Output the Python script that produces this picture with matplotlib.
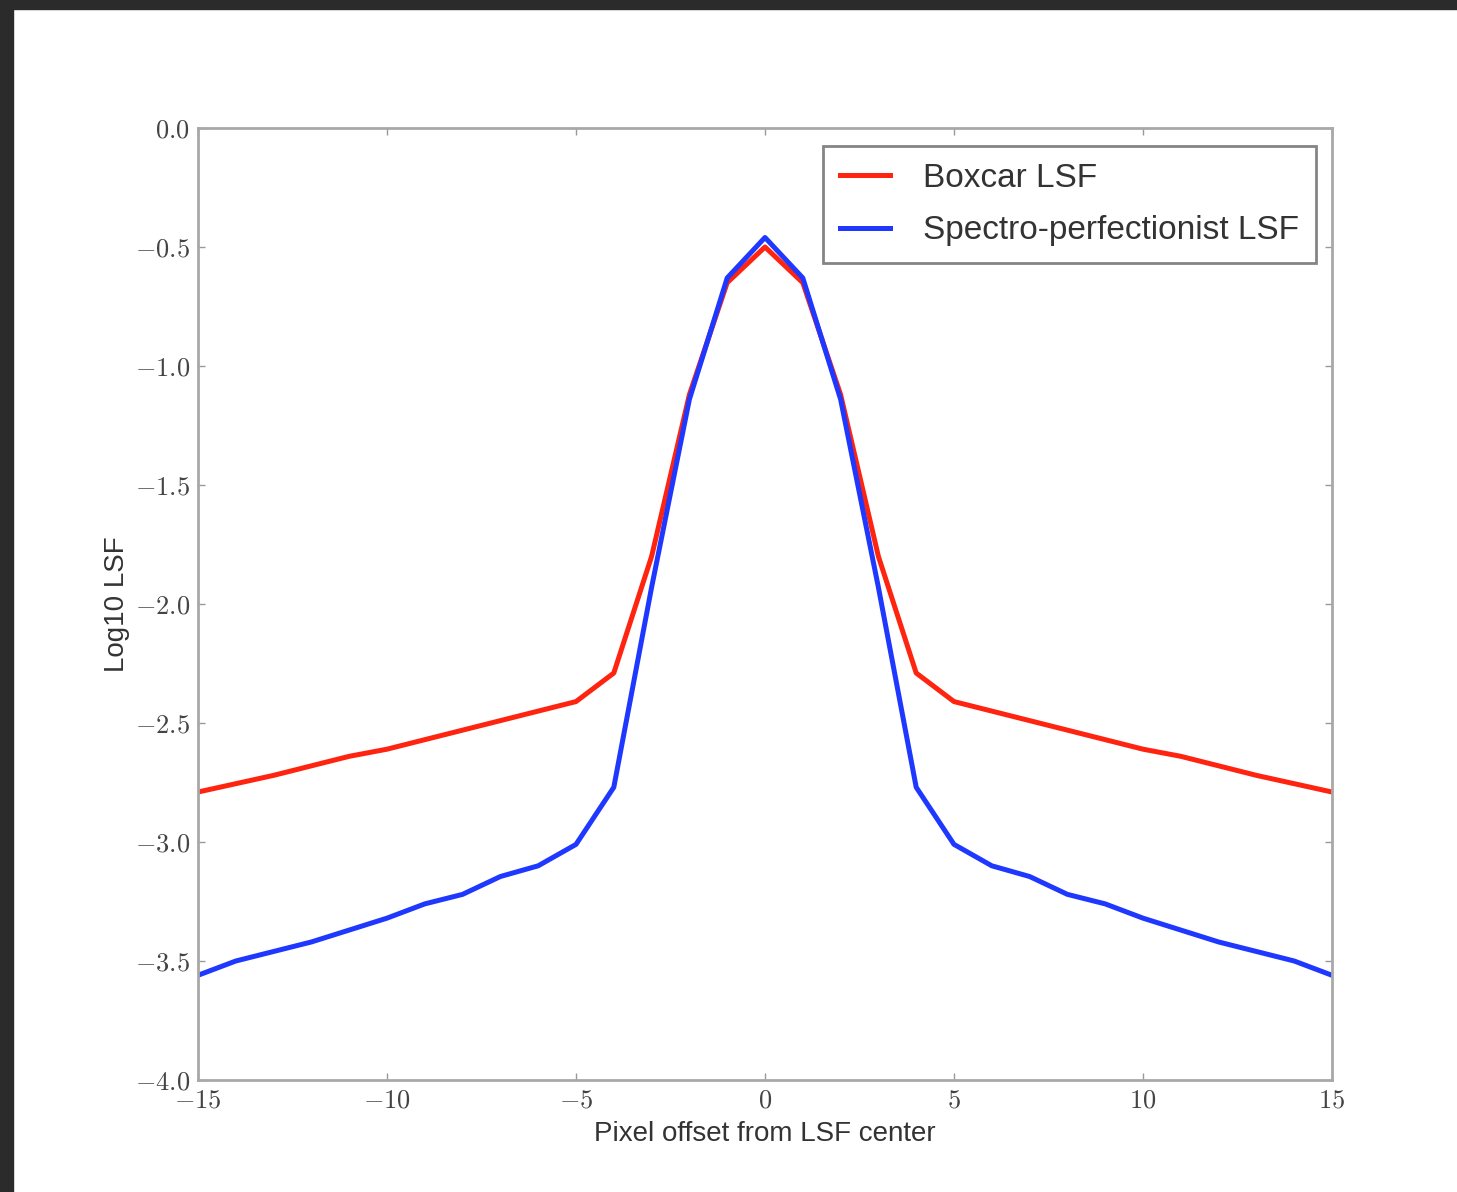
import numpy as np
import matplotlib
matplotlib.use("Agg")
import matplotlib.pyplot as plt
from matplotlib.ticker import FuncFormatter, MultipleLocator
from matplotlib.patches import Rectangle

plt.rcParams['font.family'] = ['Liberation Sans', 'DejaVu Sans']
plt.rcParams['mathtext.fontset'] = 'cm'

# pixel offsets and log10 line spread function values
offset = list(range(-15, 16))
boxcar_lsf = [-2.79, -2.755, -2.72, -2.68, -2.64, -2.61, -2.57, -2.53, -2.49, -2.45,
              -2.41, -2.29, -1.80, -1.12, -0.65, -0.50, -0.65, -1.12, -1.80, -2.29,
              -2.41, -2.45, -2.49, -2.53, -2.57, -2.61, -2.64, -2.68, -2.72, -2.755, -2.79]
spectro_lsf = [-3.56, -3.50, -3.46, -3.42, -3.37, -3.32, -3.26, -3.22, -3.145, -3.10,
               -3.01, -2.77, -1.93, -1.14, -0.63, -0.46, -0.63, -1.14, -1.93, -2.77,
               -3.01, -3.10, -3.145, -3.22, -3.26, -3.32, -3.37, -3.42, -3.46, -3.50, -3.56]

fig = plt.figure(figsize=(14.57, 11.92), dpi=100)
fig.patch.set_facecolor('white')
# dark frame along the top and left edges
fig.patches.append(Rectangle((0, 0), 13 / 1457, 1, transform=fig.transFigure,
                             color='#2b2b2b', zorder=0))
fig.patches.append(Rectangle((0, 1 - 9 / 1192), 1, 9 / 1192, transform=fig.transFigure,
                             color='#2b2b2b', zorder=0))

ax = fig.add_axes([198 / 1457, 112 / 1192, 1134 / 1457, 952 / 1192])
ax.plot(offset, boxcar_lsf, color='#ff2410', lw=3.6, label='Boxcar LSF')
ax.plot(offset, spectro_lsf, color='#1f38ff', lw=3.6, label='Spectro-perfectionist LSF')

ax.set_xlim(-15, 15)
ax.set_ylim(-4.0, 0.0)
ax.xaxis.set_major_locator(MultipleLocator(5))
ax.yaxis.set_major_locator(MultipleLocator(0.5))
ax.xaxis.set_major_formatter(FuncFormatter(lambda v, p: r'$%d$' % v))
ax.yaxis.set_major_formatter(FuncFormatter(lambda v, p: r'$%.1f$' % v))
ax.tick_params(direction='in', length=5, width=1, color='#999999',
               top=True, right=True, labelsize=19, labelcolor='#444444', pad=6)
for s in ax.spines.values():
    s.set_color('#a8a8a8')
    s.set_linewidth(2)

ax.set_xlabel('Pixel offset from LSF center', fontsize=20, color='#333333', labelpad=6)
ax.set_ylabel('Log10 LSF', fontsize=20, color='#333333', labelpad=3)

leg = ax.legend(loc='upper right', fontsize=24, fancybox=False, borderpad=0.5,
                handlelength=1.5, handletextpad=1.0, labelspacing=0.65,
                borderaxespad=0, bbox_to_anchor=(1 - 16 / 1134, 1 - 18 / 952))
leg.get_frame().set_edgecolor('#666666')
leg.get_frame().set_linewidth(2)
for t in leg.get_texts():
    t.set_color('#333333')

fig.savefig('out.png', dpi=100, facecolor='white')
